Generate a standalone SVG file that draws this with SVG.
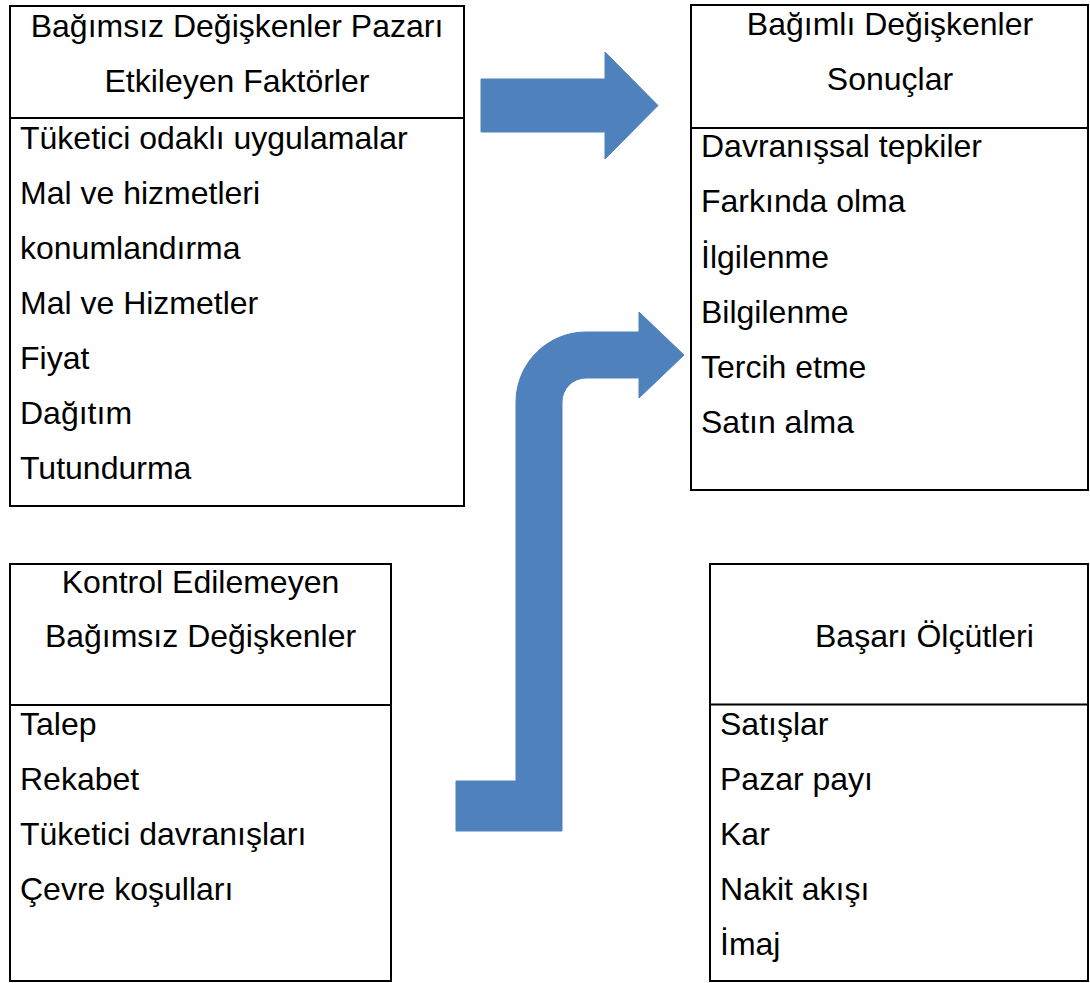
<svg xmlns="http://www.w3.org/2000/svg" width="1090" height="983" viewBox="0 0 1090 983">
<style>
.box{fill:#fff;stroke:#000;stroke-width:2}
.div{stroke:#000;stroke-width:2}
text{font-family:"Liberation Sans",Arial,sans-serif;font-size:32px;fill:#000}
.c{text-anchor:middle}
.arrow{fill:#4F81BD;stroke:#4F81BD;stroke-width:1;stroke-linejoin:round}
</style>
<rect width="1090" height="983" fill="#fff"/>
<g id="node-bagimsiz">
<rect class="box" x="10" y="6" width="454" height="500"/>
<line class="div" x1="10" y1="118" x2="464" y2="118"/>
<text class="c" x="237" y="37">Bağımsız Değişkenler Pazarı</text>
<text class="c" x="237" y="92">Etkileyen Faktörler</text>
<text x="20" y="149">Tüketici odaklı uygulamalar</text>
<text x="20" y="204">Mal ve hizmetleri</text>
<text x="20" y="259">konumlandırma</text>
<text x="20" y="314">Mal ve Hizmetler</text>
<text x="20" y="369">Fiyat</text>
<text x="20" y="424">Dağıtım</text>
<text x="20" y="479">Tutundurma</text>
</g>
<g id="node-bagimli">
<rect class="box" x="691" y="5" width="397" height="485"/>
<line class="div" x1="691" y1="128" x2="1088" y2="128"/>
<text class="c" x="890" y="35">Bağımlı Değişkenler</text>
<text class="c" x="890" y="90">Sonuçlar</text>
<text x="701" y="157">Davranışsal tepkiler</text>
<text x="701" y="212">Farkında olma</text>
<text x="701" y="268">İlgilenme</text>
<text x="701" y="323">Bilgilenme</text>
<text x="701" y="378">Tercih etme</text>
<text x="701" y="433">Satın alma</text>
</g>
<g id="node-kontrol">
<rect class="box" x="10" y="564" width="381" height="417"/>
<line class="div" x1="10" y1="705" x2="391" y2="705"/>
<text class="c" x="200.5" y="593">Kontrol Edilemeyen</text>
<text class="c" x="200.5" y="647">Bağımsız Değişkenler</text>
<text x="20" y="735">Talep</text>
<text x="20" y="790">Rekabet</text>
<text x="20" y="845">Tüketici davranışları</text>
<text x="20" y="900">Çevre koşulları</text>
</g>
<g id="node-basari">
<rect class="box" x="710" y="564" width="378" height="417"/>
<line class="div" x1="710" y1="704.5" x2="1088" y2="704.5"/>
<text x="815" y="647">Başarı Ölçütleri</text>
<text x="720" y="735">Satışlar</text>
<text x="720" y="790">Pazar payı</text>
<text x="720" y="845">Kar</text>
<text x="720" y="900">Nakit akışı</text>
<text x="720" y="955">İmaj</text>
</g>
<g id="connectors">
<path class="arrow" d="M481 79 H605 V52 L658 105.5 L605 159 V132 H481 Z"/>
<path class="arrow" d="M456 781 H516 V402 A70 70 0 0 1 586 332 H639 V312 L684 355 L639 398 V378 H586 A24 24 0 0 0 562 402 V831 H456 Z"/>
</g>
</svg>
